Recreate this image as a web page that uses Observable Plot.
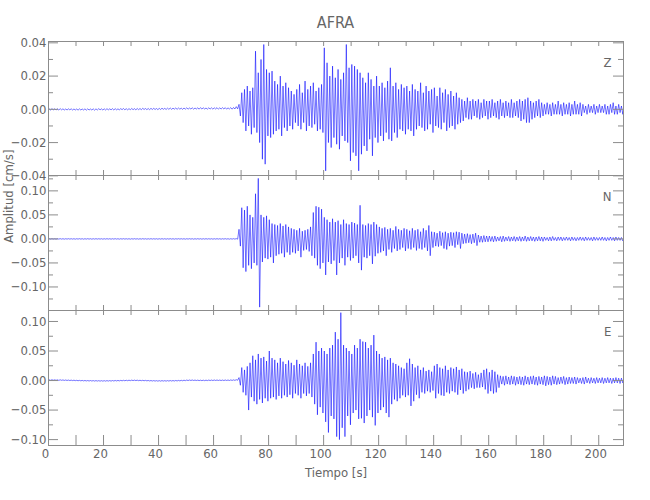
<!DOCTYPE html>
<html>
<head>
<meta charset="utf-8">
<script src="https://cdn.jsdelivr.net/npm/d3@7"></script>
<script src="https://cdn.jsdelivr.net/npm/@observablehq/plot@0.6"></script>
<style>
  body { margin: 0; background: #fff; }
  #chart { position: relative; width: 650px; height: 500px; background: #fff;
           font-family: 'Liberation Sans Narrow', 'DejaVu Sans Condensed', sans-serif; color: #666; }
  #chart svg { position: absolute; left: 0; top: 0; }
  #title { position: absolute; left: 235.5px; width: 200px; top: 14px; text-align: center;
           font-size: 16px; line-height: 18px; color: #666; }
</style>
</head>
<body>
<div id="chart"><div id="title">AFRA</div></div>
<script>
// ---- Data (amplitudes in units of 0.001 cm/s; one max/min pair per second, t = 0..209 s) ----
const stationTitle = "AFRA";
const components = ["Z", "N", "E"];

const zMax = [
  0.3,0.4,0.3,0.3,0.4,0.3,0.2,0.3,0.3,0.2,
  0.2,0.3,0.2,0.3,0.3,0.2,0.3,0.3,0.4,0.3,
  0.3,0.4,0.3,0.4,0.4,0.3,0.4,0.5,0.4,0.4,
  0.5,0.4,0.5,0.5,0.6,0.5,0.5,0.6,0.6,0.5,
  0.6,0.7,0.6,0.7,0.8,0.7,0.8,0.8,0.7,0.8,
  0.9,0.8,0.9,0.8,0.9,1.0,0.9,0.8,0.9,0.9,
  0.9,1.0,0.9,1.0,1.0,0.9,1.0,1.1,1.6,3,
  10,12,14,11,13,35,22,30,39,24,
  22,23,17,15,20,14,16,13,11,9,
  12,15,10,17,12,14,16,11,13,15,
  37,28,20,26,19,24,18,22,39,25,
  27,26,24,22,19,16,22,18,14,20,
  14,16,13,17,25,14,16,12,15,13,
  14,11,15,12,11,16,10,14,11,12,
  13,8,13,10,12,9,11,8,10,7,
  6,5,7,5,6,5,6,4,6,5,
  5,6,4,5,6,4,5,4,6,4,
  5,6,5,6,7,5,4,5,6,4,
  3,4,3,4,3,5,3,4,3,4,
  3,5,3,4,3,2,3,2,3,2,
  3,2,3,2,3,4,2,3,2,3
];
const zMin = [
  -0.4,-0.3,-0.4,-0.4,-0.3,-0.4,-0.4,-0.3,-0.4,-0.4,
  -0.5,-0.4,-0.4,-0.5,-0.4,-0.4,-0.5,-0.4,-0.3,-0.4,
  -0.4,-0.3,-0.3,-0.4,-0.3,-0.3,-0.2,-0.3,-0.3,-0.2,
  -0.2,-0.3,-0.2,-0.2,-0.1,-0.2,-0.2,-0.1,-0.1,-0.2,
  -0.1,0,-0.1,0,0,0.1,0,0.1,0,0.1,
  0.1,0.2,0.1,0.2,0.1,0.2,0.2,0.1,0.2,0.1,
  0.2,0.1,0.2,0.2,0.1,0.2,0.1,0.2,0.3,-4,
  -8,-13,-10,-15,-11,-14,-20,-30,-33,-16,
  -17,-15,-13,-12,-16,-11,-13,-10,-12,-8,
  -10,-12,-8,-13,-10,-11,-9,-13,-12,-14,
  -37,-20,-23,-17,-21,-24,-16,-19,-20,-31,
  -26,-28,-37,-27,-22,-25,-18,-28,-17,-20,
  -16,-19,-14,-18,-19,-14,-17,-12,-13,-15,
  -12,-13,-16,-12,-10,-11,-13,-12,-9,-14,
  -10,-11,-12,-8,-13,-11,-10,-12,-9,-8,
  -7,-5,-6,-6,-4,-5,-6,-5,-4,-6,
  -5,-4,-5,-6,-4,-5,-4,-5,-5,-4,
  -5,-7,-6,-8,-8,-6,-5,-4,-5,-4,
  -3,-3,-4,-3,-3,-3,-4,-3,-3,-4,
  -3,-3,-3,-4,-2,-3,-2,-2,-3,-2,
  -2,-2,-3,-3,-2,-3,-3,-2,-3,-2
];
const nMax = [
  0.4,0.5,0.4,0.4,0.5,0.4,0.4,0.5,0.4,0.4,
  0.4,0.5,0.4,0.4,0.5,0.4,0.4,0.5,0.4,0.4,
  0.4,0.5,0.4,0.4,0.5,0.4,0.4,0.5,0.4,0.4,
  0.4,0.5,0.4,0.4,0.5,0.4,0.4,0.5,0.4,0.4,
  0.4,0.5,0.4,0.4,0.5,0.4,0.4,0.5,0.4,0.4,
  0.4,0.5,0.4,0.4,0.5,0.4,0.4,0.5,0.4,0.4,
  0.4,0.5,0.4,0.4,0.5,0.4,0.4,0.5,0.6,20,
  65,60,68,50,45,94,126,50,45,48,
  40,32,30,28,32,27,30,25,22,20,
  18,22,16,18,20,25,55,68,66,62,
  45,40,35,42,35,38,30,40,32,30,
  35,33,30,70,30,28,32,30,35,30,
  25,22,24,20,22,18,26,20,18,22,
  20,17,22,18,20,15,22,18,28,15,
  14,12,16,13,15,12,14,13,15,14,
  12,10,11,9,10,12,8,6,7,6,
  6,5,6,4,5,6,4,5,4,5,
  4,5,4,6,4,5,4,4,5,4,
  4,3,4,5,3,4,4,3,4,3,
  4,3,3,4,3,4,3,3,4,3,
  3,4,3,3,4,3,4,3,3,3
];
const nMin = [
  -0.4,-0.4,-0.5,-0.4,-0.4,-0.5,-0.4,-0.4,-0.4,-0.5,
  -0.4,-0.4,-0.5,-0.4,-0.4,-0.5,-0.4,-0.4,-0.4,-0.5,
  -0.4,-0.4,-0.5,-0.4,-0.4,-0.5,-0.4,-0.4,-0.4,-0.5,
  -0.4,-0.4,-0.5,-0.4,-0.4,-0.5,-0.4,-0.4,-0.4,-0.5,
  -0.4,-0.4,-0.5,-0.4,-0.4,-0.5,-0.4,-0.4,-0.4,-0.5,
  -0.4,-0.4,-0.5,-0.4,-0.4,-0.5,-0.4,-0.4,-0.4,-0.5,
  -0.4,-0.4,-0.5,-0.4,-0.4,-0.5,-0.4,-0.4,-0.5,-15,
  -60,-68,-55,-62,-50,-55,-142,-48,-40,-42,
  -38,-50,-35,-32,-30,-38,-28,-33,-28,-30,
  -25,-38,-24,-22,-26,-35,-40,-55,-62,-50,
  -75,-48,-52,-45,-75,-50,-40,-55,-38,-45,
  -40,-35,-50,-65,-38,-40,-35,-52,-36,-30,
  -28,-25,-35,-22,-28,-20,-25,-22,-18,-25,
  -20,-22,-18,-24,-20,-22,-18,-25,-35,-18,
  -15,-16,-14,-20,-22,-15,-14,-18,-12,-20,
  -10,-9,-8,-10,-8,-14,-7,-7,-6,-6,
  -5,-6,-5,-4,-6,-5,-4,-5,-4,-5,
  -4,-5,-4,-5,-4,-4,-5,-4,-4,-5,
  -3,-4,-4,-3,-4,-3,-4,-3,-3,-4,
  -3,-4,-3,-3,-4,-3,-3,-4,-3,-3,
  -3,-3,-4,-3,-3,-4,-3,-3,-4,-3
];
const eMax = [
  1.2,1.3,1.2,1.1,1.2,1.0,0.9,0.8,0.7,0.6,
  0.4,0.3,0.2,0.1,0.0,0.0,-0.1,-0.1,-0.2,-0.2,
  -0.2,-0.1,-0.1,0.0,0.1,0.2,0.3,0.4,0.5,0.6,
  0.7,0.7,0.6,0.5,0.4,0.3,0.1,0.0,-0.1,-0.2,
  -0.2,-0.1,-0.2,-0.1,0.0,0.0,0.1,0.2,0.4,0.6,
  0.8,0.9,0.9,0.8,0.7,0.6,0.6,0.7,0.8,0.8,
  0.9,0.9,0.8,0.8,0.9,0.9,1.0,1.1,1.4,5,
  22,18,24,30,42,35,45,38,40,33,
  50,38,35,30,38,32,28,34,30,26,
  35,28,25,30,24,30,45,65,50,55,
  50,45,55,60,82,70,115,60,55,50,
  45,60,55,70,66,65,55,60,77,50,
  45,38,40,35,38,30,28,25,22,20,
  30,37,28,22,25,18,22,16,18,15,
  25,28,22,20,25,18,22,20,23,18,
  20,15,14,16,12,14,10,13,18,20,
  14,18,15,10,8,7,8,6,8,7,
  6,7,6,8,6,7,8,6,7,6,
  8,7,6,8,7,5,6,7,5,6,
  5,6,5,4,5,6,4,5,4,5,
  4,5,4,5,4,4,5,4,4,3
];
const eMin = [
  0.4,0.5,0.4,0.3,0.4,0.2,0.1,0.0,-0.1,-0.2,
  -0.4,-0.5,-0.6,-0.7,-0.8,-0.8,-0.9,-0.9,-1.0,-1.0,
  -1.0,-0.9,-0.9,-0.8,-0.7,-0.6,-0.5,-0.4,-0.3,-0.2,
  -0.1,-0.1,-0.2,-0.3,-0.4,-0.5,-0.7,-0.8,-0.9,-1.0,
  -1.0,-0.9,-1.0,-0.9,-0.8,-0.8,-0.7,-0.6,-0.4,-0.2,
  0.0,0.1,0.1,0.0,-0.1,-0.2,-0.2,-0.1,0.0,0.0,
  0.1,0.1,0.0,0.0,0.1,0.1,0.2,0.3,0.5,-8,
  -20,-25,-50,-28,-35,-40,-32,-38,-30,-35,
  -30,-28,-32,-26,-30,-25,-28,-24,-30,-22,
  -25,-30,-22,-26,-22,-28,-40,-58,-45,-55,
  -70,-88,-60,-65,-95,-100,-80,-95,-60,-75,
  -55,-50,-65,-64,-72,-60,-50,-62,-76,-55,
  -50,-45,-55,-62,-40,-32,-35,-30,-25,-28,
  -25,-43,-35,-24,-30,-20,-22,-18,-20,-17,
  -30,-22,-25,-26,-20,-22,-18,-20,-24,-16,
  -22,-18,-15,-12,-14,-12,-12,-11,-15,-22,
  -18,-22,-20,-12,-6,-8,-6,-7,-6,-8,
  -6,-7,-8,-6,-7,-6,-7,-8,-6,-7,
  -9,-7,-8,-6,-7,-6,-5,-7,-6,-5,
  -5,-6,-4,-5,-6,-4,-5,-4,-5,-4,
  -4,-5,-4,-4,-5,-4,-4,-5,-4,-4
];

// axis domains and ticks
const xDomain = [0, 209];
const xTicks = [0,10,20,30,40,50,60,70,80,90,100,110,120,130,140,150,160,170,180,190,200];
const xLabels = [0,20,40,60,80,100,120,140,160,180,200];
const zDomain = [-0.0398, 0.0408];
const zMajor = [-0.04,-0.02,0.00,0.02,0.04];
const zMinor = [-0.03,-0.01,0.01,0.03];
const nDomain = [-0.149, 0.132];
const nMajor = [-0.10,-0.05,0.00,0.05,0.10];
const nMinor = [-0.125,-0.075,-0.025,0.025,0.075,0.125];
const eDomain = [-0.110, 0.1186];
const eMajor = [-0.10,-0.05,0.00,0.05,0.10];
const eMinor = [-0.075,-0.025,0.025,0.075];
const xTitle = "Tiempo [s]";
const yTitle = "Amplitud [cm/s]";

// ---- Drawing ----
const W = 650, H = 500, ML = 48, MR = 27;
const LINE = "#8c8c8c";
const FONT = "'Liberation Sans Narrow', 'DejaVu Sans Condensed', sans-serif";

function trace(maxs, mins) {
  const pts = [];
  maxs.forEach((m, i) => {
    pts.push({t: i + 0.25, v: m / 1000});
    pts.push({t: i + 0.75, v: mins[i] / 1000});
  });
  return pts;
}

function panel(o) {
  const ph = H - o.top - o.bottom, pw = W - ML - MR;
  const marks = [
    Plot.line(trace(o.maxs, o.mins), {x: "t", y: "v", stroke: "#0000ff", strokeWidth: 0.55, clip: true}),
    Plot.frame({stroke: LINE}),
    Plot.tickY(o.major, {y: d => d, stroke: LINE, insetRight: pw - 10}),
    Plot.tickY(o.major, {y: d => d, stroke: LINE, insetLeft: pw - 10}),
    Plot.tickY(o.minor, {y: d => d, stroke: LINE, insetRight: pw - 5}),
    Plot.tickY(o.minor, {y: d => d, stroke: LINE, insetLeft: pw - 5}),
    Plot.tickX(xTicks, {x: d => d, stroke: LINE, insetBottom: ph - 5}),
    Plot.tickX(xTicks, {x: d => d, stroke: LINE, insetTop: ph - o.bottomTick}),
    Plot.axisY(o.major, {tickSize: 0, tickPadding: 2, tickFormat: d3.format(".2f"), label: null, fill: "#666"}),
    Plot.text([o.name], {frameAnchor: "top-right", dx: -12, dy: 16, fill: "#666", fontSize: 13})
  ];
  if (o.xAxis) {
    marks.push(Plot.axisX(xLabels, {tickSize: 0, tickPadding: 3, dx: -3, label: null, fill: "#666", tickFormat: d => String(d)}));
    marks.push(Plot.text([xTitle], {frameAnchor: "bottom", dy: 31, fill: "#666", fontSize: 13}));
  }
  if (o.yTitle) {
    marks.push(Plot.text([yTitle], {frameAnchor: "left", dx: -40, rotate: -90, fill: "#666", fontSize: 13}));
  }
  return Plot.plot({
    width: W, height: H,
    marginLeft: ML, marginRight: MR, marginTop: o.top, marginBottom: o.bottom,
    x: {domain: xDomain, axis: o.xAxis ? undefined : null},
    y: {domain: o.domain},
    style: {background: "transparent", overflow: "visible", fontFamily: FONT, fontSize: "13px", color: "#666"},
    marks
  });
}

const chart = document.getElementById("chart");
chart.append(panel({name: components[0], top: 41, bottom: 325, domain: zDomain, maxs: zMax, mins: zMin, major: zMajor, minor: zMinor, bottomTick: 5}));
chart.append(panel({name: components[1], top: 175, bottom: 190, domain: nDomain, maxs: nMax, mins: nMin, major: nMajor, minor: nMinor, bottomTick: 5, yTitle: true}));
chart.append(panel({name: components[2], top: 310, bottom: 55, domain: eDomain, maxs: eMax, mins: eMin, major: eMajor, minor: eMinor, bottomTick: 10, xAxis: true}));
document.getElementById("title").textContent = stationTitle;
</script>
</body>
</html>
